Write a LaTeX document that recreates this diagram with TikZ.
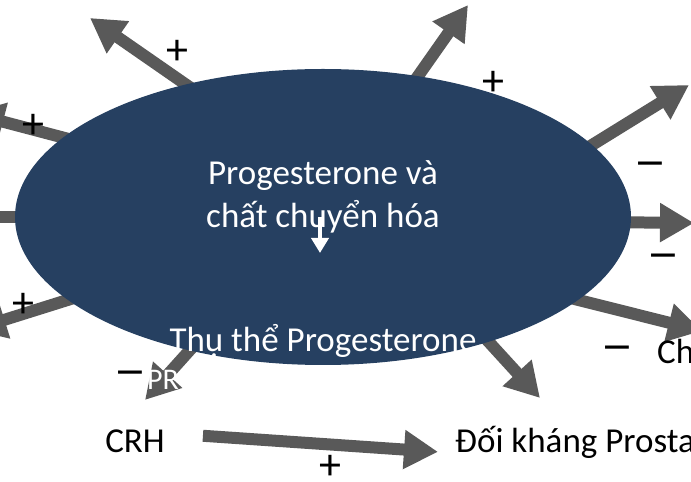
\documentclass[tikz,border=0pt]{standalone}
\usepackage{fontspec}
\setmainfont{Carlito}
\newfontfamily\signfont{DejaVu Sans}
\usetikzlibrary{arrows.meta,shapes.geometric,backgrounds}
\definecolor{ellblue}{RGB}{38,64,97}
\definecolor{arrgray}{RGB}{89,89,89}
\begin{document}
\begin{tikzpicture}[x=1pt,y=1pt,
    fatarrow/.style={draw=arrgray,line width=12pt,-{Triangle[length=34pt,width=37pt]},shorten <=-10pt},
    thinarrow/.style={draw=white,line width=4pt,-{Triangle[length=15pt,width=17pt]}},
    sign/.style={inner sep=0pt,font=\fontsize{44}{44}\selectfont},
    minus/.style={inner sep=0pt,font=\signfont\fontsize{38}{38}\selectfont},
    lbl/.style={inner sep=0pt,anchor=base,font=\fontsize{35}{43}\selectfont}]
    \useasboundingbox (0,0) rectangle (691,482);
    \node [ellipse,fill=ellblue,minimum width=616pt,minimum height=296pt,inner sep=0pt] (ell) at (323,265) {};
    \coordinate (t1) at (90,464);
    \coordinate (t2) at (468,477);
    \coordinate (t3) at (689,397);
    \coordinate (t4) at (694,259);
    \coordinate (t5) at (702,151);
    \coordinate (t6) at (540,84);
    \coordinate (t7) at (145,82);
    \coordinate (t8) at (-28,152);
    \coordinate (t9) at (-50,265);
    \coordinate (t10) at (-30,369);
    \begin{scope}[on background layer]
    \draw [fatarrow] (ell.136) -- (t1);
    \draw [fatarrow] (ell.56) -- (t2);
    \draw [fatarrow] (ell.15) -- (t3);
    \draw [fatarrow] (ell.-1) -- (t4);
    \draw [fatarrow] (ell.-18) -- (t5);
    \draw [fatarrow] (ell.-37) -- (t6);
    \draw [fatarrow] (ell.225) -- (t7);
    \draw [fatarrow] (ell.198) -- (t8);
    \draw [fatarrow] (ell.180) -- (t9);
    \draw [fatarrow] (ell.163) -- (t10);
    \end{scope}
    \node [lbl,white] (prog1) at (323,297) {Progesterone và};
    \node [lbl,white] (prog2) at (323,254) {chất chuyển hóa};
    \coordinate (sa) at (320,265);
    \coordinate (sb) at (320,229);
    \draw [thinarrow] (sa) -- (sb);
    \node [lbl,white] (recep) at (323,130) {Thụ thể Progesterone};
    \node [lbl] (crh) at (135,29) {CRH};
    \node [lbl,anchor=base west] (dk) at (455,29) {Đối kháng Prosta};
    \node [lbl,anchor=base west] (ch) at (657,118) {Ch};
    \node [lbl,anchor=base west,white,font=\fontsize{30}{34}\selectfont] (pr) at (147,92) {PR};
    \draw [fatarrow,shorten <=0pt] ([xshift=38pt,yshift=6pt]crh.east) -- ([xshift=-17pt,yshift=-9pt]dk.west);
    \node [sign] (p1) at (177,430) {+};
    \node [sign] (p2) at (493,399) {+};
    \node [sign] (p3) at (33,356) {+};
    \node [sign] (p4) at (23,177) {+};
    \node [sign] (p5) at (330,15) {+};
    \node [minus] (m1) at (650,313) {−};
    \node [minus] (m2) at (663,221) {−};
    \node [minus] (m3) at (617,129) {−};
    \node [minus] (m4) at (130,104) {−};
\end{tikzpicture}
\end{document}
